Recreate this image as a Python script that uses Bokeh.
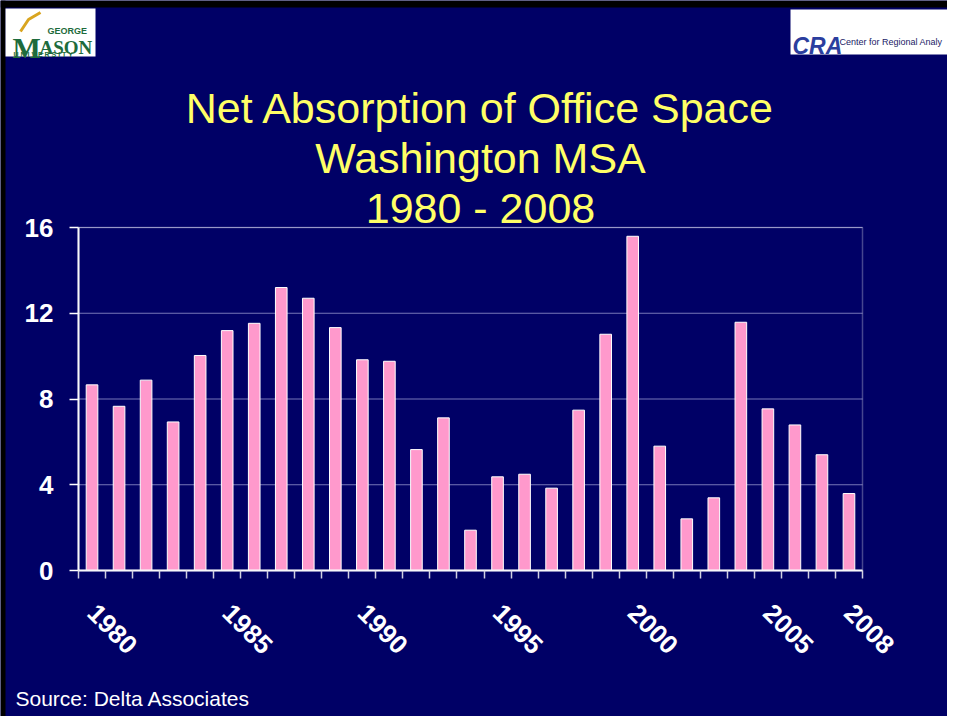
from bokeh.plotting import figure
from bokeh.models import Range1d, FixedTicker, BoxAnnotation
from bokeh.core.properties import value
from bokeh.embed import file_html
from bokeh.resources import INLINE

# ---- data ----
years = [1980, 1981, 1982, 1983, 1984, 1985, 1986, 1987, 1988, 1989,
         1990, 1991, 1992, 1993, 1994, 1995, 1996, 1997, 1998, 1999,
         2000, 2001, 2002, 2003, 2004, 2005, 2006, 2007, 2008]
absorption = [8.66, 7.66, 8.88, 6.93, 10.03, 11.19, 11.53, 13.20, 12.70, 11.33,
              9.83, 9.76, 5.64, 7.12, 1.88, 4.37, 4.49, 3.84, 7.48, 11.02,
              15.59, 5.80, 2.41, 3.39, 11.58, 7.54, 6.79, 5.40, 3.59]
x_tick_years = [1980, 1985, 1990, 1995, 2000, 2005, 2008]
x_tick_labels = ["1980", "1985", "1990", "1995", "2000", "2005", "2008"]
y_ticks = [0, 4, 8, 12, 16]
title_lines = ["Net Absorption of Office Space", "Washington MSA", "1980 - 2008"]
source_text = "Source: Delta Associates"

# ---- layout constants (pixels) ----
NAVY = "#000066"
FONT = "Liberation Sans"
W, H = 947, 716                 # canvas
PLOT_L, PLOT_R = 78, 862        # chart area
PLOT_T, PLOT_B = 227, 570

x_lo, x_hi = years[0] - 0.5, years[-1] + 0.5
y_lo, y_hi = y_ticks[0], y_ticks[-1]
px_per_x = (PLOT_R - PLOT_L) / (x_hi - x_lo)
px_per_y = (PLOT_B - PLOT_T) / (y_hi - y_lo)
xr = Range1d(x_lo - PLOT_L / px_per_x, x_hi + (W - PLOT_R) / px_per_x)
yr = Range1d(y_lo - (H - PLOT_B) / px_per_y, y_hi + PLOT_T / px_per_y)


def X(px):
    return xr.start + px / px_per_x


def Y(py):
    return yr.end - py / px_per_y


p = figure(width=W, height=H, min_border=0, x_range=xr, y_range=yr,
           output_backend="svg", toolbar_location=None)
p.background_fill_color = NAVY
p.border_fill_color = NAVY
p.outline_line_color = None
p.xgrid.grid_line_color = None
p.ygrid.grid_line_color = None

# ---- horizontal grid lines (limited to the chart area) ----
p.segment(x0=[x_lo] * len(y_ticks), y0=y_ticks, x1=[x_hi] * len(y_ticks), y1=y_ticks,
          line_color="#7676B8", line_width=1)

# ---- bars ----
p.vbar(x=years, top=absorption, width=0.43, bottom=0,
       fill_color="#FF99CC", line_color="#FFFFFF", line_width=1)

# chart box (top / right edges)
p.add_layout(BoxAnnotation(left=x_lo, right=x_hi, bottom=y_lo, top=y_hi,
                           fill_color=None, line_color="#E8E8F0", line_width=1.5))

# ---- y axis ----
yaxis = p.yaxis[0]
yaxis.fixed_location = x_lo
yaxis.bounds = (y_lo, y_hi)
yaxis.ticker = FixedTicker(ticks=y_ticks)
yaxis.axis_line_color = "#FFFFFF"
yaxis.axis_line_width = 2
yaxis.major_tick_line_color = "#FFFFFF"
yaxis.major_tick_line_width = 1.5
yaxis.major_tick_out = 9
yaxis.major_tick_in = 0
yaxis.minor_tick_line_color = None
yaxis.major_label_text_color = "#FFFFFF"
yaxis.major_label_text_font = FONT
yaxis.major_label_text_font_style = "bold"
yaxis.major_label_text_font_size = "26px"
yaxis.major_label_standoff = 16

# ---- x axis ----
boundaries = [y - 0.5 for y in years] + [years[-1] + 0.5]
xaxis = p.xaxis[0]
xaxis.fixed_location = y_lo
xaxis.bounds = (x_lo, x_hi)
xaxis.ticker = FixedTicker(ticks=x_tick_years, minor_ticks=boundaries)
xaxis.major_label_overrides = {yr_: lab for yr_, lab in zip(x_tick_years, x_tick_labels)}
xaxis.axis_line_color = "#FFFFFF"
xaxis.axis_line_width = 2
xaxis.major_tick_out = 0
xaxis.major_tick_in = 0
xaxis.major_tick_line_color = None
xaxis.minor_tick_line_color = "#D0D0E0"
xaxis.minor_tick_line_width = 1.5
xaxis.minor_tick_out = 8
xaxis.minor_tick_in = 0
xaxis.major_label_orientation = -0.785398
xaxis.major_label_text_color = "#FFFFFF"
xaxis.major_label_text_font = FONT
xaxis.major_label_text_font_style = "bold"
xaxis.major_label_text_font_size = "26px"
xaxis.major_label_standoff = 30

# ---- slide frame (black edges) ----
p.quad(left=[X(0), X(0)], right=[X(5), X(W)], top=[Y(0), Y(0)], bottom=[Y(H), Y(7)],
       fill_color="#000000", line_color=None)

# ---- George Mason University logo ----
p.quad(left=[X(5)], right=[X(95)], top=[Y(8)], bottom=[Y(56)],
       fill_color="#FFFFFF", line_color=None)
p.line(x=[X(20), X(28), X(40)], y=[Y(31), Y(19), Y(12)], line_color="#D9A520", line_width=3)
p.text(x=[X(12)], y=[Y(47)], text=["M"], text_color="#1E6B3C",
       text_font=value("Liberation Serif"), text_font_style="bold",
       text_font_size="30px", text_baseline="alphabetic")
p.text(x=[X(39)], y=[Y(47)], text=["ASON"], text_color="#1E6B3C",
       text_font=value("Liberation Serif"), text_font_style="bold",
       text_font_size="19px", text_baseline="alphabetic")
p.text(x=[X(47)], y=[Y(30)], text=["GEORGE"], text_color="#1E6B3C",
       text_font=value(FONT), text_font_style="bold",
       text_font_size="9px", text_baseline="alphabetic")
p.text(x=[X(13)], y=[Y(54)], text=["U N I V E R S I T Y"], text_color="#1E6B3C",
       text_font=value(FONT), text_font_style="bold",
       text_font_size="7px", text_baseline="alphabetic")

# ---- Center for Regional Analysis logo ----
p.quad(left=[X(790)], right=[X(W)], top=[Y(9)], bottom=[Y(54)],
       fill_color="#FFFFFF", line_color=None)
p.text(x=[X(792)], y=[Y(45)], text=["CRA"], text_color="#2B3E9E",
       text_font=value(FONT), text_font_style="bold italic",
       text_font_size="23px", text_baseline="alphabetic")
p.text(x=[X(839)], y=[Y(41)], text=["Center for Regional Analy"], text_color="#1A1A66",
       text_font=value(FONT), text_font_size="9px", text_baseline="alphabetic")

# ---- title ----
p.text(x=[X(480)] * 3, y=[Y(107), Y(157), Y(207)], text=title_lines,
       text_color="#FFFF66", text_font=value(FONT), text_font_size="43px",
       text_align="center", text_baseline="alphabetic")

# ---- source note ----
p.text(x=[X(15)], y=[Y(698)], text=[source_text], text_color="#FFFFFF",
       text_font=value(FONT), text_font_size="21px",
       text_align="left", text_baseline="alphabetic")

open("out.html", "w").write(file_html(p, INLINE))
